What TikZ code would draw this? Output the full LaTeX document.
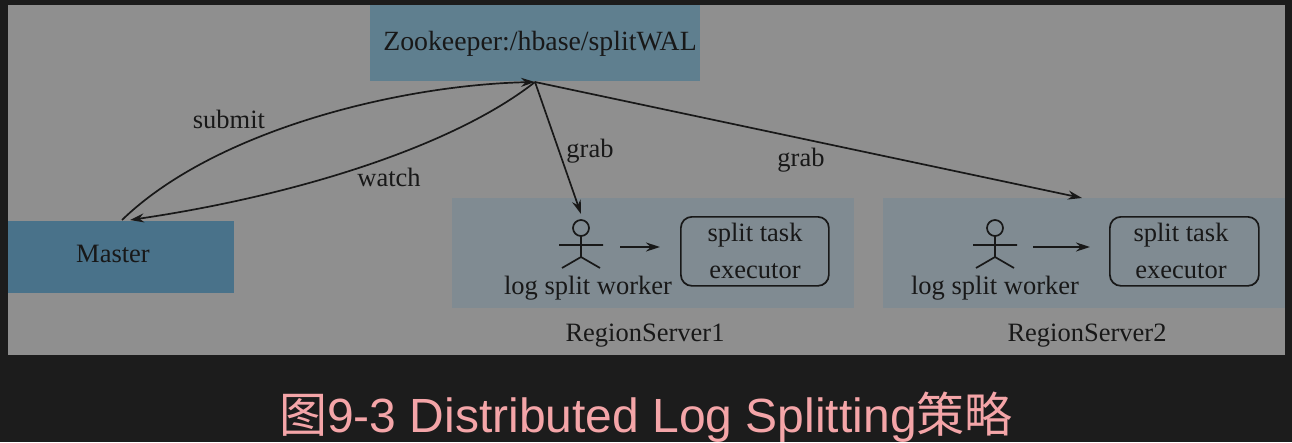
\documentclass[tikz,border=0pt]{standalone}
\usepackage{fontspec}
\setmainfont{Liberation Serif}
\newfontfamily\capfont{Liberation Sans}
\newfontfamily\cjkfont{Noto Sans CJK SC}
\usetikzlibrary{arrows.meta}
\definecolor{bgdark}{HTML}{1C1C1C}
\definecolor{panel}{HTML}{8F8F8F}
\definecolor{zkfill}{HTML}{5F7F8F}
\definecolor{masterfill}{HTML}{49728A}
\definecolor{rsfill}{HTML}{808B92}
\definecolor{ink}{HTML}{181818}
\definecolor{capcol}{HTML}{F4A5A8}
\tikzset{
  lbl/.style={font=\fontsize{26.5}{30}\selectfont, text=ink, inner sep=0pt},
  blockbox/.style={fill=#1, draw=none, inner sep=0pt, anchor=north west},
  conn/.style={draw=ink, line width=1.7pt, -{Stealth[length=14pt,width=9pt]}},
  figline/.style={draw=ink, line width=1.7pt},
  taskbox/.style={draw=ink, line width=1.7pt, rounded corners=11pt, inner sep=0pt, anchor=north west},
  pics/actor/.style={code={
    \draw[figline] (0,0) circle[radius=8];
    \draw[figline] (0,8) -- (0,29) (-22,17) -- (22,17)
       (-19,40) -- (0,29) -- (19,40);
  }}
}
\begin{document}
\begin{tikzpicture}[x=1pt,y=-1pt]
\useasboundingbox (0,0) rectangle (1292,442);
\fill[bgdark] (0,0) rectangle (1292,442);
\fill[panel] (8,5) rectangle (1285,355);
% blocks
\node[blockbox=zkfill, minimum width=330pt, minimum height=76pt] (zk) at (370,5) {};
\node[blockbox=masterfill, minimum width=226pt, minimum height=72pt] (master) at (8,221) {};
\node[blockbox=rsfill, minimum width=402pt, minimum height=110pt] (rsa) at (452,198) {};
\node[blockbox=rsfill, minimum width=402pt, minimum height=110pt] (rsb) at (883,198) {};
\node[lbl, font=\fontsize{27.8}{32}\selectfont] (zkt) at (540,44) {Zookeeper:/hbase/splitWAL};
\node[lbl] (mt) at (113,254) {Master};
% hub and ends
\coordinate (hub) at (535,82);
\coordinate (ms) at (122,220);
\coordinate (mw) at (130,220);
\coordinate (wa) at (581,214);
\coordinate (wb) at (1082,198);
% connectors
\draw[conn] (ms) .. controls (215,130) and (400,85) .. (hub);
\draw[conn] (hub) .. controls (455,145) and (300,195) .. (mw);
\draw[conn] (hub) -- (wa);
\draw[conn] (hub) -- (wb);
\node[lbl] (ls) at (229,119) {submit};
\node[lbl] (lw) at (389,177) {watch};
\node[lbl] (lga) at (590,151) {grab};
\node[lbl] (lgb) at (801,160) {grab};
% region server 1
\pic at (581,228) {actor};
\coordinate (aa) at (620,247);
\node[taskbox, minimum width=148pt, minimum height=69pt] (ta) at (680,216) {};
\coordinate (tae) at (680,247);
\draw[conn, shorten >=20pt] (aa) -- (tae);
\node[lbl] (t1a) at (755,235) {split task};
\node[lbl] (t1b) at (755,271) {executor};
\node[lbl] (w1) at (588,288) {log split worker};
\node[lbl] (r1) at (645,336) {RegionServer1};
% region server 2
\pic at (995,228) {actor};
\coordinate (ab) at (1033,247);
\node[taskbox, minimum width=149pt, minimum height=69pt] (tb) at (1109,216) {};
\coordinate (tbe) at (1109,247);
\draw[conn, shorten >=19pt] (ab) -- (tbe);
\node[lbl] (t2a) at (1181,235) {split task};
\node[lbl] (t2b) at (1181,271) {executor};
\node[lbl] (w2) at (995,288) {log split worker};
\node[lbl] (r2) at (1087,336) {RegionServer2};
% caption
\node[inner sep=0pt, text=capcol, font=\fontsize{48}{54}\selectfont] (cap) at (646,417) {{\cjkfont 图}{\capfont 9-3 Distributed Log Splitting}{\cjkfont 策略}};
\end{tikzpicture}
\end{document}
